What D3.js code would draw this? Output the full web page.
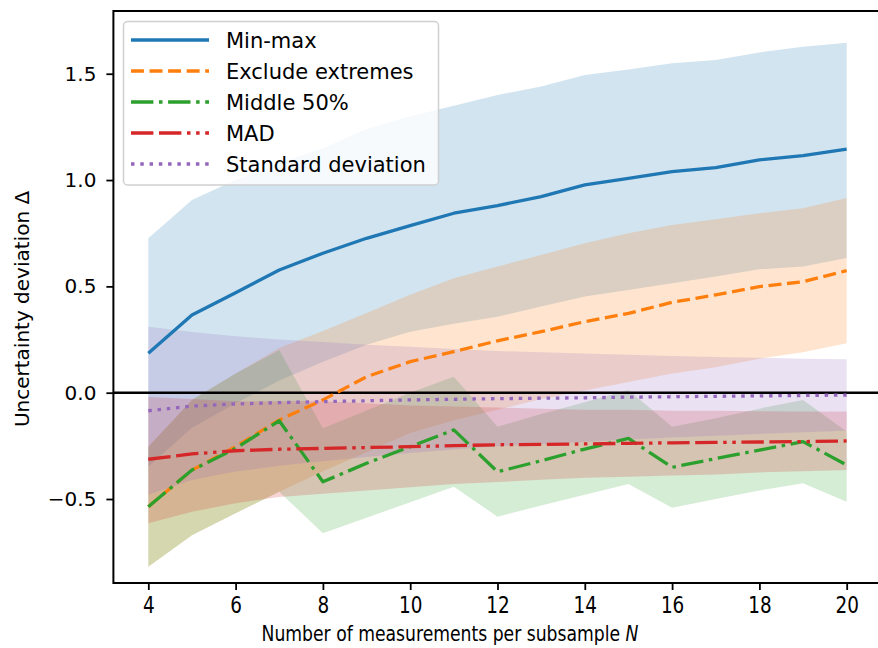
<!DOCTYPE html>
<html><head><meta charset="utf-8">
<script src="https://cdn.jsdelivr.net/npm/d3@7"></script>
<style>
body{margin:0;background:#fff}
svg{display:block}
text{font-family:"DejaVu Sans",sans-serif;fill:#000}
</style>
</head><body>
<svg id="c" width="878" height="648"></svg>
<script>
// ---- data ----
const sizes = [4,5,6,7,8,9,10,11,12,13,14,15,16,17,18,19,20];

const minmaxMean  = [0.185,0.365,0.47,0.577,0.656,0.726,0.786,0.844,0.88,0.922,0.977,1.008,1.04,1.058,1.095,1.115,1.145];
const minmaxUpper = [0.726,0.906,1.0,1.08,1.15,1.24,1.30,1.35,1.40,1.44,1.494,1.52,1.549,1.565,1.60,1.627,1.646];
const minmaxLower = [-0.348,-0.165,-0.05,0.057,0.146,0.226,0.286,0.324,0.357,0.405,0.452,0.483,0.515,0.546,0.58,0.593,0.633];

const exclMean  = [-0.536,-0.364,-0.254,-0.128,-0.034,0.075,0.146,0.193,0.244,0.287,0.334,0.373,0.425,0.46,0.499,0.522,0.574];
const exclUpper = [-0.254,-0.034,0.09,0.21,0.29,0.375,0.46,0.538,0.593,0.648,0.703,0.75,0.789,0.816,0.844,0.867,0.915];
const exclLower = [-0.818,-0.67,-0.567,-0.466,-0.37,-0.28,-0.19,-0.13,-0.08,-0.03,0.01,0.05,0.09,0.12,0.16,0.19,0.232];

const midMean  = [-0.536,-0.364,-0.262,-0.132,-0.419,-0.332,-0.254,-0.175,-0.372,-0.32,-0.265,-0.215,-0.351,-0.31,-0.27,-0.23,-0.34];
const midUpper = [-0.254,-0.034,0.09,0.20,-0.167,-0.084,0.0,0.075,-0.16,-0.10,-0.045,0.013,-0.16,-0.12,-0.075,-0.034,-0.183];
const midLower = [-0.818,-0.67,-0.567,-0.466,-0.661,-0.588,-0.515,-0.442,-0.583,-0.53,-0.48,-0.43,-0.541,-0.50,-0.46,-0.426,-0.513];

const madMean  = [-0.313,-0.288,-0.273,-0.266,-0.262,-0.258,-0.254,-0.249,-0.245,-0.243,-0.241,-0.238,-0.236,-0.234,-0.232,-0.230,-0.227];
const madUpper = [-0.02,-0.03,-0.04,-0.04,-0.04,-0.05,-0.06,-0.065,-0.07,-0.075,-0.08,-0.08,-0.085,-0.085,-0.087,-0.088,-0.089];
const madLower = [-0.614,-0.56,-0.52,-0.49,-0.475,-0.46,-0.445,-0.43,-0.42,-0.41,-0.40,-0.395,-0.39,-0.385,-0.375,-0.37,-0.364];

const sdMean  = [-0.085,-0.063,-0.053,-0.047,-0.042,-0.038,-0.034,-0.031,-0.028,-0.026,-0.024,-0.021,-0.019,-0.017,-0.015,-0.013,-0.011];
const sdUpper = [0.31,0.285,0.265,0.25,0.238,0.226,0.216,0.205,0.196,0.19,0.184,0.178,0.173,0.168,0.164,0.16,0.157];
const sdLower = [-0.48,-0.411,-0.371,-0.344,-0.322,-0.302,-0.284,-0.267,-0.252,-0.242,-0.232,-0.22,-0.211,-0.202,-0.194,-0.186,-0.179];

const seriesNames = ["Min-max","Exclude extremes","Middle 50%","MAD","Standard deviation"];
const seriesColors = ["#1f77b4","#ff7f0e","#2ca02c","#d62728","#9467bd"];
const xTicks = [4,6,8,10,12,14,16,18,20];
const yTicks = [-0.5,0,0.5,1.0,1.5];
const xTitle = "Number of measurements per subsample ";
const xTitleItalic = "N";
const yTitle = "Uncertainty deviation Δ";

// ---- layout ----
const L = 113.4, R = 881.6, T = 11, B = 583;
const LW = 3.3;
const svg = d3.select("#c");
const x = d3.scaleLinear().domain([3.2, 20.8]).range([L, R]);
const y = d3.scaleLinear().domain([-0.895, 1.795]).range([B, T]);

const dashUnit = 3.5;
const pat = a => a.map(v => (v*dashUnit).toFixed(2)).join(",");
const series = [
  {mean: minmaxMean, lo: minmaxLower, hi: minmaxUpper, dash: null},
  {mean: exclMean, lo: exclLower, hi: exclUpper, dash: pat([3.7,1.6])},
  {mean: midMean, lo: midLower, hi: midUpper, dash: pat([6.4,1.6,1,1.6])},
  {mean: madMean, lo: madLower, hi: madUpper, dash: pat([6.4,1.6,6.4,1.6,1,1.6,1,1.6])},
  {mean: sdMean, lo: sdLower, hi: sdUpper, dash: pat([1,1.65])}
];

svg.append("defs").append("clipPath").attr("id","clip")
  .append("rect").attr("x",L).attr("y",T).attr("width",R-L).attr("height",B-T);

const plot = svg.append("g").attr("clip-path","url(#clip)");

const area = d3.area().x((d,i)=>x(sizes[i])).y0(d=>y(d[0])).y1(d=>y(d[1]));
series.forEach((s,k)=>{
  const pts = sizes.map((n,i)=>[s.lo[i], s.hi[i]]);
  plot.append("path").attr("d", area(pts))
    .attr("fill", seriesColors[k]).attr("fill-opacity", 0.2).attr("stroke","none");
});

// zero line
plot.append("line").attr("x1",L).attr("x2",R).attr("y1",y(0)).attr("y2",y(0))
  .attr("stroke","#000").attr("stroke-width",2.4);

const line = d3.line().x((d,i)=>x(sizes[i])).y(d=>y(d));
series.forEach((s,k)=>{
  const p = plot.append("path").attr("d", line(s.mean))
    .attr("fill","none").attr("stroke", seriesColors[k]).attr("stroke-width",LW)
    .attr("stroke-linejoin","round");
  if (s.dash) p.attr("stroke-dasharray", s.dash);
});

// axes
const xa = svg.append("g").attr("transform",`translate(0,${B})`)
  .call(d3.axisBottom(x).tickValues(xTicks).tickSize(7).tickPadding(7).tickFormat(d3.format("d")));
const ya = svg.append("g").attr("transform",`translate(${L},0)`)
  .call(d3.axisLeft(y).tickValues(yTicks).tickSize(7).tickPadding(10).tickFormat(d3.format(".1f")));
[xa,ya].forEach(a=>{
  a.attr("font-size",null).attr("font-family",null);
  a.select(".domain").remove();
  a.selectAll(".tick line").attr("stroke","#000").attr("stroke-width",1.8);
  a.selectAll(".tick text").style("font-size","20px").style("font-family","DejaVu Sans").attr("fill","#000");
});
xa.selectAll(".tick text").style("font-size","23px").attr("transform","scale(0.8,1)");

// spines
svg.append("rect").attr("x",L).attr("y",T).attr("width",R-L).attr("height",B-T)
  .attr("fill","none").attr("stroke","#000").attr("stroke-width",2);

// axis titles
const xt = svg.append("text").style("font-size","21px")
  .attr("transform","translate(450,641) scale(0.82,1)").attr("text-anchor","middle");
xt.append("tspan").text(xTitle);
xt.append("tspan").attr("font-style","italic").text(xTitleItalic);

svg.append("text").style("font-size","20px").attr("text-anchor","middle")
  .attr("transform","translate(29,309) rotate(-90)").text(yTitle);

// legend
const lg = svg.append("g");
lg.append("rect").attr("x",123.5).attr("y",21.5).attr("width",315).attr("height",163.5)
  .attr("rx",4).attr("fill","#fff").attr("fill-opacity",0.8)
  .attr("stroke","#d0d0d0").attr("stroke-width",1.5);
const rowY = d => 40 + d*31;
seriesNames.forEach((name,k)=>{
  const l = lg.append("line").attr("x1",131).attr("x2",209).attr("y1",rowY(k)).attr("y2",rowY(k))
    .attr("stroke",seriesColors[k]).attr("stroke-width",LW);
  if (series[k].dash) l.attr("stroke-dasharray",series[k].dash);
  lg.append("text").attr("x",226).attr("y",rowY(k)).attr("dy","0.36em")
    .style("font-size","21px").text(name);
});
</script>
</body></html>
